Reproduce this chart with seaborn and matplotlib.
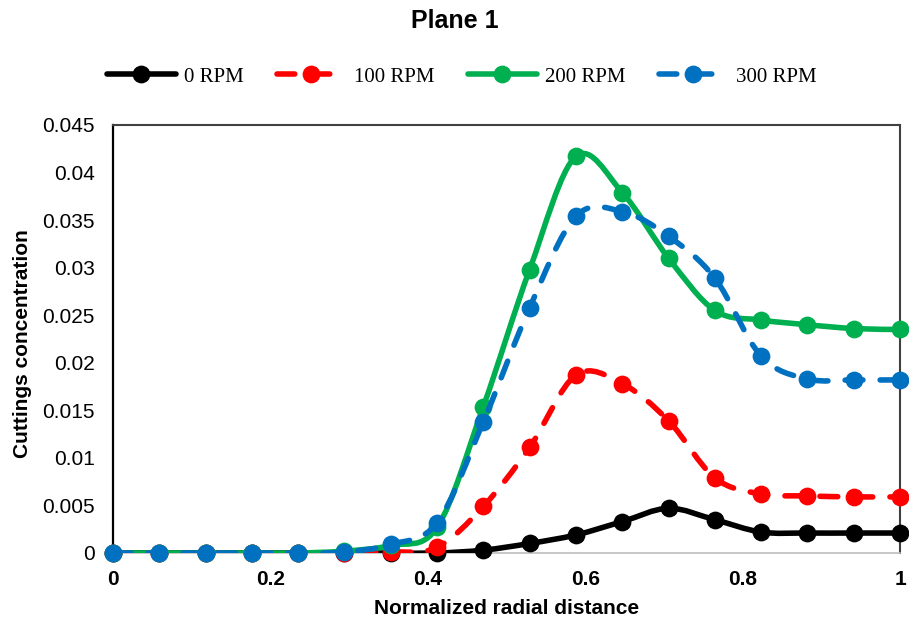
import numpy as np
import pandas as pd
import matplotlib
matplotlib.use("Agg")
import matplotlib.pyplot as plt
import seaborn as sns
from matplotlib.path import Path
from matplotlib.patches import PathPatch
from matplotlib.lines import Line2D

# ---------------- data ----------------
radial = [0, 0.0588, 0.1176, 0.1765, 0.2353, 0.2941, 0.3529, 0.4118, 0.4706,
          0.5294, 0.5882, 0.6471, 0.7059, 0.7647, 0.8235, 0.8824, 0.9412, 1.0]
rpm0 = [0, 0, 0, 0, 0, 0, 0, 0, 0.0003, 0.0010, 0.0019, 0.0033, 0.0047,
        0.0035, 0.0022, 0.0021, 0.0021, 0.0021]
rpm100 = [0, 0, 0, 0, 0, 0, 0.0001, 0.0006, 0.0049, 0.0111, 0.0187, 0.0178,
          0.0139, 0.0079, 0.0062, 0.0060, 0.0059, 0.0059]
rpm200 = [0, 0, 0, 0, 0, 0.0002, 0.0008, 0.0027, 0.0154, 0.0298, 0.0417,
          0.0379, 0.0310, 0.0255, 0.0245, 0.0240, 0.0236, 0.0235]
rpm300 = [0, 0, 0, 0, 0, 0.0001, 0.0009, 0.0032, 0.0138, 0.0258, 0.0354,
          0.0359, 0.0333, 0.0289, 0.0207, 0.0183, 0.0182, 0.0182]
series_names = ["0 RPM", "100 RPM", "200 RPM", "300 RPM"]
xtick_vals = [0, 0.2, 0.4, 0.6, 0.8, 1.0]
xtick_labels = ["0", "0.2", "0.4", "0.6", "0.8", "1"]
ytick_vals = [0, 0.005, 0.01, 0.015, 0.02, 0.025, 0.03, 0.035, 0.04, 0.045]
ytick_labels = ["0", "0.005", "0.01", "0.015", "0.02", "0.025", "0.03",
                "0.035", "0.04", "0.045"]

# ---------------- style ----------------
sns.set_style("white")
plt.rcParams["font.family"] = ["Liberation Sans", "DejaVu Sans"]
plt.rcParams["text.color"] = "black"
plt.rcParams["axes.labelcolor"] = "black"
plt.rcParams["xtick.color"] = "black"
plt.rcParams["ytick.color"] = "black"

colors = {"0 RPM": "#000000", "100 RPM": "#FF0000",
          "200 RPM": "#00B050", "300 RPM": "#0070C0"}
dashed = {"0 RPM": False, "100 RPM": True, "200 RPM": False, "300 RPM": True}
values = {"0 RPM": rpm0, "100 RPM": rpm100, "200 RPM": rpm200, "300 RPM": rpm300}

df = pd.concat([pd.DataFrame({"x": radial, "y": values[n], "series": n})
                for n in series_names], ignore_index=True)

LW = 4.0
MS = 12.8
DASH = (0, (3.2, 3.1))


def smooth_path(x, y):
    """Excel-style smoothed line as cubic Bezier segments through the data points."""
    pts = np.column_stack([x, y]).astype(float)
    n = len(pts)
    verts = [pts[0]]
    codes = [Path.MOVETO]
    for i in range(n - 1):
        p0 = pts[i - 1] if i > 0 else pts[i]
        p1 = pts[i]
        p2 = pts[i + 1]
        p3 = pts[i + 2] if i + 2 < n else pts[i + 1]
        c1 = p1 + (p2 - p0) / 6.0
        c2 = p2 - (p3 - p1) / 6.0
        verts += [c1, c2, p2]
        codes += [Path.CURVE4] * 3
    return Path(np.array(verts), codes)


fig = plt.figure(figsize=(9.09, 6.26), dpi=100)
ax = fig.add_axes([113 / 909, 1 - 553 / 626, (900 - 113) / 909, (553 - 125) / 626])

for i, name in enumerate(series_names):
    sub = df[df["series"] == name]
    patch = PathPatch(smooth_path(sub["x"].values, sub["y"].values),
                      facecolor="none", edgecolor=colors[name], lw=LW,
                      linestyle=DASH if dashed[name] else "-",
                      capstyle="round", joinstyle="round", zorder=2 + 2 * i)
    ax.add_patch(patch)
    sns.scatterplot(data=sub, x="x", y="y", color=colors[name], s=MS ** 2,
                    edgecolor=colors[name], linewidth=0, ax=ax, legend=False,
                    zorder=3 + 2 * i, clip_on=False)

ax.set_xlim(0, 1)
ax.set_ylim(0, 0.045)
ax.set_xticks(xtick_vals)
ax.set_xticklabels(xtick_labels, fontsize=15, fontweight="bold")
ax.set_yticks(ytick_vals)
ax.set_yticklabels(ytick_labels, fontsize=15)
ax.tick_params(axis="x", length=0, pad=12)
ax.tick_params(axis="y", length=0, pad=13)
ax.grid(False)

ax.set_xlabel("Normalized radial distance", fontsize=15, fontweight="bold")
ax.set_ylabel("Cuttings concentration", fontsize=15, fontweight="bold")
ax.xaxis.set_label_coords(0.5, -0.108)
ax.yaxis.set_label_coords(-0.103, 0.49)

for side in ["top", "right"]:
    ax.spines[side].set_color("#404040")
    ax.spines[side].set_linewidth(1.5)
ax.spines["left"].set_color("#000000")
ax.spines["left"].set_linewidth(1.6)
ax.spines["bottom"].set_color("#BFBFBF")
ax.spines["bottom"].set_linewidth(1.2)
for s in ax.spines.values():
    s.set_zorder(1)

fig.text(0.5, 1 - 21 / 626, "Plane 1", ha="center", va="center",
         fontsize=18, fontweight="bold")

handles = [Line2D([], [], color=colors[n], lw=LW,
                  linestyle=DASH if dashed[n] else "-",
                  dash_capstyle="round", solid_capstyle="round",
                  marker="o", markersize=MS, markeredgewidth=0)
           for n in series_names]
fig.legend(handles, series_names, loc="center", ncol=4,
           bbox_to_anchor=(0.508, 1 - 77 / 626), frameon=False,
           prop={"family": "Liberation Serif", "size": 15},
           handlelength=3.3, handletextpad=0.4, columnspacing=1.6)

fig.savefig("out.png", dpi=100)
